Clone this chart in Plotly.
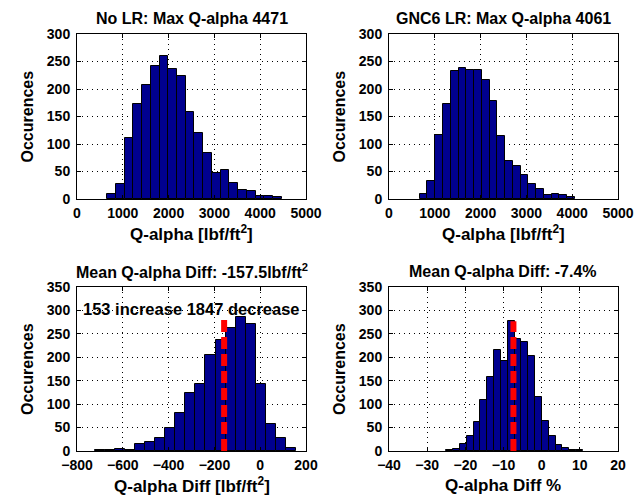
import numpy as np
import plotly.graph_objects as go

# ---------------- data ----------------
# Top-left: No LR, max Q-alpha histogram (20 bins between min and max)
nolr_min, nolr_max = 659, 4471
nolr_counts = [10, 28, 111, 172, 207, 241, 260, 237, 223, 159,
               120, 83, 47, 53, 29, 17, 14, 6, 5, 3]

# Top-right: GNC6 LR, max Q-alpha histogram
gnc_min, gnc_max = 670, 4061
gnc_counts = [10, 32, 117, 172, 232, 239, 234, 235, 216, 179,
              115, 70, 60, 44, 27, 18, 8, 9, 7, 3]

# Bottom-left: Q-alpha difference [lbf/ft^2]
diff_min, diff_max = -722, 156
diff_counts = [2, 2, 5, 2, 15, 20, 28, 50, 81, 123,
               144, 205, 237, 262, 287, 271, 142, 58, 28, 6]
diff_mean = -157.5
n_increase, n_decrease = 153, 1847

# Bottom-right: Q-alpha difference [%]
pct_min, pct_max = -25.0, 10.8
pct_counts = [2, 5, 14, 33, 62, 108, 157, 215, 193, 277,
              238, 232, 202, 115, 65, 33, 13, 7, 3, 2]
pct_mean = -7.4

titles = ["No LR: Max Q-alpha 4471",
          "GNC6 LR: Max Q-alpha 4061",
          "Mean Q-alpha Diff: -157.5lbf/ft<sup>2</sup>",
          "Mean Q-alpha Diff: -7.4%"]
xlabels = ["Q-alpha [lbf/ft<sup>2</sup>]", "Q-alpha [lbf/ft<sup>2</sup>]",
           "Q-alpha Diff [lbf/ft<sup>2</sup>]", "Q-alpha Diff %"]
ylabel = "Occurences"

# ---------------- layout geometry ----------------
W, H = 640, 501
def px_x(p): return p / W
def px_y(p): return 1 - p / H

doms = [
    (px_x(77), px_x(306), px_y(199), px_y(34)),
    (px_x(389), px_x(618), px_y(199), px_y(34)),
    (px_x(77), px_x(306), px_y(451), px_y(287)),
    (px_x(389), px_x(618), px_y(451), px_y(287)),
]
xranges = [(0, 5000), (0, 5000), (-800, 200), (-40, 20)]
xticks = [list(range(0, 5001, 1000)), list(range(0, 5001, 1000)),
          list(range(-800, 201, 200)), list(range(-40, 21, 10))]
yranges = [(0, 300), (0, 300), (0, 350), (0, 350)]

hists = [(nolr_min, nolr_max, nolr_counts), (gnc_min, gnc_max, gnc_counts),
         (diff_min, diff_max, diff_counts), (pct_min, pct_max, pct_counts)]

FONT = "Liberation Sans, Arial, sans-serif"
BAR_COLOR = "#00008F"

fig = go.Figure()
layout = dict(width=W, height=H, margin=dict(l=0, r=0, t=0, b=0, autoexpand=False),
              paper_bgcolor="white", plot_bgcolor="white", showlegend=False)

annotations = []
for i, ((x0, x1, y0, y1), (lo, hi, counts)) in enumerate(zip(doms, hists)):
    k = "" if i == 0 else str(i + 1)
    edges = np.linspace(lo, hi, len(counts) + 1)
    centers = (edges[:-1] + edges[1:]) / 2
    width = edges[1] - edges[0]
    fig.add_trace(go.Bar(x=centers, y=counts, width=width,
                         marker=dict(color=BAR_COLOR, line=dict(color="black", width=1)),
                         xaxis="x" + k, yaxis="y" + k, hoverinfo="skip"))
    common = dict(showline=True, linecolor="black", linewidth=1, mirror="ticks",
                  ticks="inside", ticklen=4, tickcolor="black", automargin=False,
                  showgrid=True, gridcolor="black", griddash="1px,4px", gridwidth=1,
                  zeroline=False,
                  tickfont=dict(family=FONT, size=14, color="black", weight="bold"))
    layout["xaxis" + k] = dict(domain=[x0, x1], range=list(xranges[i]),
                               tickvals=xticks[i], anchor="y" + k,
                               ticklabelstandoff=1, **common)
    layout["yaxis" + k] = dict(domain=[y0, y1], range=list(yranges[i]),
                               dtick=50, anchor="x" + k,
                               ticklabelstandoff=3, **common)
    xc = (x0 + x1) / 2
    top_px = (1 - y1) * H
    bot_px = (1 - y0) * H
    left_px = x0 * W
    annotations.append(dict(text="<b>" + titles[i] + "</b>", x=xc, y=px_y(top_px - 16),
                            xref="paper", yref="paper", xanchor="center", yanchor="middle",
                            showarrow=False, font=dict(family=FONT, size=16, color="black")))
    annotations.append(dict(text="<b>" + xlabels[i] + "</b>", x=xc, y=px_y(bot_px + 34),
                            xref="paper", yref="paper", xanchor="center", yanchor="middle",
                            showarrow=False, font=dict(family=FONT, size=17, color="black")))
    annotations.append(dict(text="<b>" + ylabel + "</b>", x=px_x(left_px - 50),
                            y=(y0 + y1) / 2, textangle=-90,
                            xref="paper", yref="paper", xanchor="center", yanchor="middle",
                            showarrow=False, font=dict(family=FONT, size=16, color="black")))

# mean lines (height = tallest bin)
for k, mean, counts in [("3", diff_mean, diff_counts), ("4", pct_mean, pct_counts)]:
    fig.add_trace(go.Scatter(x=[mean, mean], y=[0, max(counts)], mode="lines",
                             line=dict(color="red", width=6, dash="12px,5px"),
                             xaxis="x" + k, yaxis="y" + k, hoverinfo="skip"))

annotations.append(dict(text="<b>%d increase %d decrease</b>" % (n_increase, n_decrease),
                        x=-782, y=302, xref="x3", yref="y3", xanchor="left", yanchor="middle",
                        showarrow=False, font=dict(family=FONT, size=16.5, color="black")))

layout["annotations"] = annotations
layout["bargap"] = 0
fig.update_layout(**layout)
fig.write_html("out.html")
